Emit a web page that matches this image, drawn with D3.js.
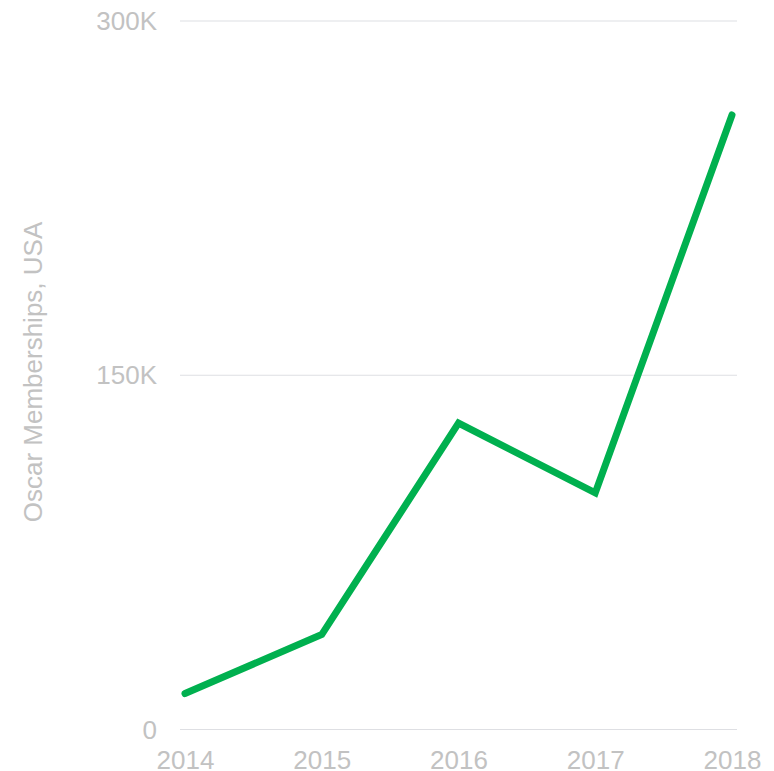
<!DOCTYPE html>
<html>
<head>
<meta charset="utf-8">
<script src="https://cdn.jsdelivr.net/npm/d3@7"></script>
<style>
  html, body { margin: 0; padding: 0; background: #fff; }
  svg { display: block; font-family: "Liberation Sans", Arial, sans-serif; }
</style>
</head>
<body>
<svg id="chart" width="774" height="771"></svg>
<script>
// Oscar memberships by year
const years = [2014, 2015, 2016, 2017, 2018];
const memberships = [15000, 40000, 129500, 100000, 260000];
const yTicks = [0, 150000, 300000];
const yTickLabels = ["0", "150K", "300K"];
const yTitle = "Oscar Memberships, USA";

const svg = d3.select("#chart");

const x = d3.scalePoint().domain(years).range([185, 732]);
const y = d3.scaleLinear().domain([0, 300000]).range([729, 20.5]);

const textColor = "#c2c2c2";
const gridColor = "#dedfe3";

// horizontal gridlines with value labels
const yAxis = d3.axisLeft(y)
  .tickValues(yTicks)
  .tickSize(-(737 - 180))
  .tickFormat((d, i) => yTickLabels[i])
  .tickPadding(23);
const gy = svg.append("g").attr("transform", "translate(180,0)").call(yAxis);
gy.select(".domain").remove();
gy.selectAll(".tick line").attr("stroke", gridColor).attr("stroke-width", 1.2);
gy.selectAll(".tick text").attr("fill", textColor).attr("font-size", 26).attr("dy", "0.35em");

// year labels
const xAxis = d3.axisBottom(x).tickSize(0).tickPadding(0).tickFormat(d3.format("d"));
const gx = svg.append("g").attr("transform", "translate(0,751)").call(xAxis);
gx.select(".domain").remove();
gx.selectAll(".tick text").attr("fill", textColor).attr("font-size", 26).attr("dy", "0.71em");

// axis title
svg.append("text")
  .attr("transform", `translate(42,372) rotate(-90)`)
  .attr("text-anchor", "middle")
  .attr("fill", textColor)
  .attr("font-size", 26)
  .text(yTitle);

// data line
const line = d3.line().x((d, i) => x(years[i])).y(d => y(d));
svg.append("path")
  .datum(memberships)
  .attr("d", line)
  .attr("fill", "none")
  .attr("stroke", "#00b04f")
  .attr("stroke-width", 7)
  .attr("stroke-linecap", "round")
  .attr("stroke-linejoin", "miter");
</script>
</body>
</html>
